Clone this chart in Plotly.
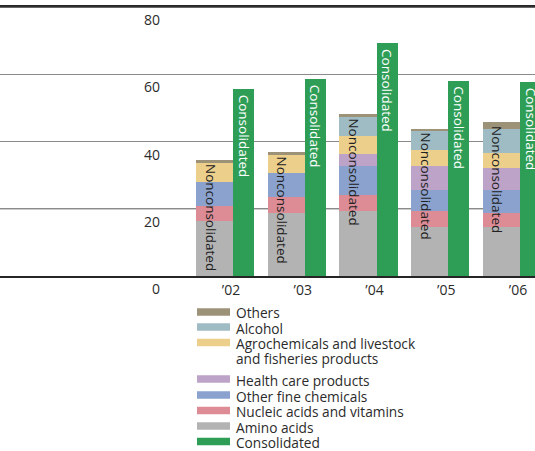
import numpy as np
import plotly.graph_objects as go

# ---------------- data ----------------
years = ["\u201902", "\u201903", "\u201904", "\u201905", "\u201906"]
amino_acids = [16.3, 18.7, 19.3, 14.5, 14.5]
nucleic_acids_vitamins = [4.4, 4.8, 4.8, 4.8, 4.2]
other_fine_chemicals = [7.2, 7.1, 8.6, 6.2, 6.8]
health_care = [0.0, 0.0, 3.6, 7.2, 6.6]
agrochemicals = [5.6, 5.3, 5.3, 4.8, 4.6]
alcohol = [0.0, 0.0, 5.8, 5.6, 6.9]
others = [1.0, 0.9, 0.8, 0.7, 2.2]
consolidated = [55.7, 58.7, 69.4, 58.1, 57.8]
y_ticks = [0, 20, 40, 60, 80]

# ---------------- styling ----------------
W, H = 535, 451
TOP_PX, ZERO_PX = 7, 276
FONT = "Open Sans"
TXT = "#2b2b2b"
PX_PER_CAT = 71.75

stack = [
    ("Amino acids", amino_acids, "#b3b3b3"),
    ("Nucleic acids and vitamins", nucleic_acids_vitamins, "#dd8c96"),
    ("Other fine chemicals", other_fine_chemicals, "#8aa2cd"),
    ("Health care products", health_care, "#bda3c8"),
    ("Agrochemicals and livestock and fisheries products", agrochemicals, "#eccf8a"),
    ("Alcohol", alcohol, "#9fbcc4"),
    ("Others", others, "#9c9278"),
]
CONS_COLOR = "#2e9e57"

NC_OFF, NC_W = -0.488, 0.516
C_OFF, C_W = 0.028, 0.293

fig = go.Figure()
base = np.zeros(len(years))
for name, vals, color in stack:
    v = np.array(vals, dtype=float)
    fig.add_trace(go.Bar(
        x=years, y=v, base=base.copy(), width=NC_W, offset=NC_OFF,
        marker=dict(color=color, line=dict(width=0)), name=name,
        showlegend=False, hoverinfo="name+y",
    ))
    base += v
totals = base.copy()

fig.add_trace(go.Bar(
    x=years, y=consolidated, width=C_W, offset=C_OFF,
    marker=dict(color=CONS_COLOR, line=dict(width=0)), name="Consolidated",
    showlegend=False,
))

annotations = []
for i, yr in enumerate(years):
    annotations.append(dict(
        x=i + NC_OFF + NC_W / 2, y=totals[i], xref="x", yref="y",
        text="Nonconsolidated", textangle=90, showarrow=False,
        xanchor="center", yanchor="top", yshift=-2, xshift=-4,
        font=dict(family=FONT, size=13.5, color="#222222"),
    ))
    annotations.append(dict(
        x=i + C_OFF + C_W / 2, y=consolidated[i], xref="x", yref="y",
        text="Consolidated", textangle=90, showarrow=False,
        xanchor="center", yanchor="top", yshift=-4,
        font=dict(family=FONT, size=13.5, color="white"),
    ))

# helpers (pixel -> paper)
def py(p):
    return (ZERO_PX - p) / (ZERO_PX - TOP_PX)

def px(p):
    return p / W

# y tick labels, set just below their gridlines
for t in y_ticks:
    annotations.append(dict(
        x=px(162), y=t, xref="paper", yref="y", text=str(t), showarrow=False,
        xanchor="right", yanchor="top", yshift=-1,
        font=dict(family=FONT, size=14, color=TXT),
    ))

# dark gridlines at 20 and 80
shapes = [
    dict(type="line", xref="paper", yref="y", x0=0, x1=1, y0=20, y1=20,
         line=dict(color="#333333", width=1.2), layer="between"),
    dict(type="line", xref="paper", yref="paper", x0=0, x1=1, y0=1, y1=1,
         line=dict(color="#333333", width=1.5), layer="above"),
]

legend_items = [
    ("#9c9278", 312, ["Others"]),
    ("#9fbcc4", 327, ["Alcohol"]),
    ("#eccf8a", 342.5, ["Agrochemicals and livestock", "and fisheries products"]),
    ("#bda3c8", 379, ["Health care products"]),
    ("#8aa2cd", 395, ["Other fine chemicals"]),
    ("#dd8c96", 410.5, ["Nucleic acids and vitamins"]),
    ("#b3b3b3", 426, ["Amino acids"]),
    (CONS_COLOR, 441.5, ["Consolidated"]),
]
for color, yc, lines in legend_items:
    shapes.append(dict(type="rect", xref="paper", yref="paper",
                       x0=px(197), x1=px(230), y0=py(yc + 3.8), y1=py(yc - 3.8),
                       fillcolor=color, line=dict(width=0), layer="above"))
    for k, line in enumerate(lines):
        annotations.append(dict(
            x=px(234), y=py(yc + 1 + 15 * k), xref="paper", yref="paper",
            text=line, showarrow=False, xanchor="left", yanchor="middle",
            font=dict(family=FONT, size=13.7, color=TXT),
        ))

x0_idx = -231 / PX_PER_CAT
x1_idx = (W - 231) / PX_PER_CAT

fig.update_layout(
    width=W, height=H,
    margin=dict(l=0, r=0, t=TOP_PX, b=H - ZERO_PX, pad=0),
    paper_bgcolor="white", plot_bgcolor="white",
    barmode="overlay", bargap=0,
    font=dict(family=FONT, size=14, color=TXT),
    xaxis=dict(type="category", range=[x0_idx, x1_idx], showgrid=False,
               showline=True, mirror=True, linecolor="#262626", linewidth=1.5,
               ticks="", zeroline=False,
               tickfont=dict(family=FONT, size=14, color=TXT)),
    yaxis=dict(range=[0, 80], tickvals=y_ticks, showgrid=True, gridcolor="#8a8a8a",
               gridwidth=1, zeroline=False, showticklabels=False,
               showline=False, ticks=""),
    shapes=shapes,
    annotations=annotations,
    showlegend=False,
)

fig.write_html("out.html")
